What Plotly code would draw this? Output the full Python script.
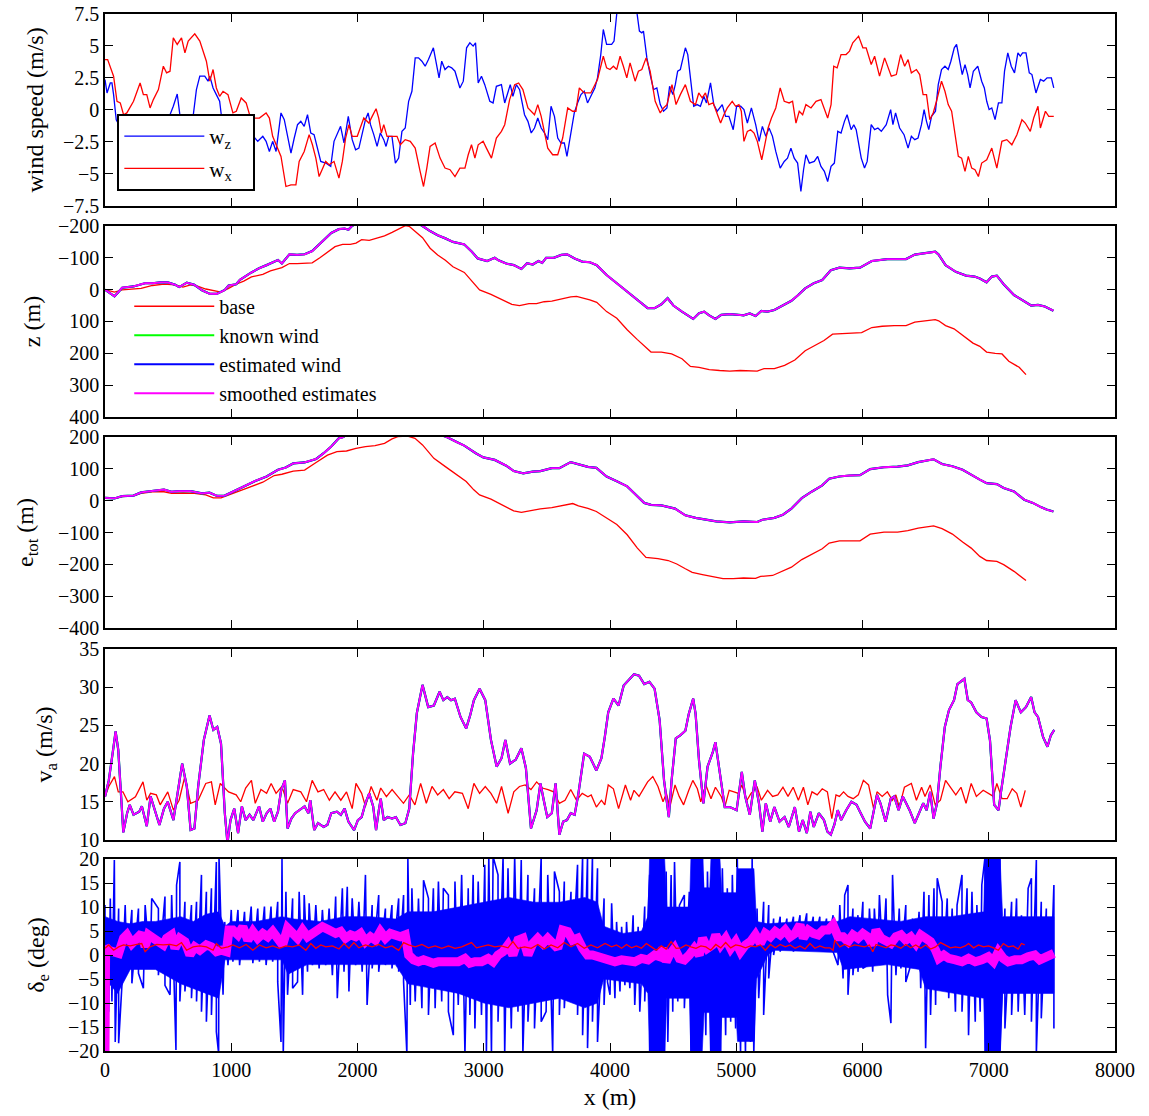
import plotly.graph_objects as go

# ---------------- data ----------------
X_TICKS = [0, 1000, 2000, 3000, 4000, 5000, 6000, 7000, 8000]

# panel 1: wind speed (m/s)
WZ = [(0,2.38),(16,1.33),(42,2.11),(55,2.11),(68,1.2),(89,-0.76),(130,-1.5),(200,-1.0),(280,-2.0),(350,-1.2),(430,-0.8),(500,-0.6),
      (515,-0.37),(541,0.29),(572,1.25),(593,-0.37),(640,-1.5),(698,-0.5),(724,1.59),(751,2.64),(790,2.64),(816,2.25),(830,2.64),(856,1.72),
      (882,1.2),(908,0.68),(921,-0.37),(960,-2.0),(1000,-2.5),(1050,-1.5),(1100,-2.0),(1150,-2.8),(1176,-2.06),(1210,-2.45),(1250,-2.06),
      (1276,-2.45),(1302,-3.24),(1328,-2.45),(1355,-3.24),(1394,-0.23),(1420,-0.76),(1447,-2.19),(1473,-3.37),(1499,-2.19),(1525,-1.15),
      (1551,-0.89),(1578,-1.28),(1604,-0.37),(1630,-1.8),(1656,-1.93),(1683,-2.98),(1709,-4.02),(1748,-4.15),(1788,-4.41),(1814,-2.45),
      (1840,-1.93),(1866,-1.28),(1893,-2.58),(1927,-0.5),(1958,-2.32),(1985,-3.11),(2011,-2.98),(2037,-1.93),(2063,-0.76),(2084,-0.23),
      (2103,-1.15),(2129,-1.93),(2155,-2.85),(2181,-1.8),(2208,-2.32),(2226,-2.85),(2247,-2.06),(2273,-2.06),(2300,-4.15),(2326,-3.76),
      (2352,-1.67),(2378,-1.41),(2405,0.68),(2431,1.46),(2457,4.07),(2483,4.07),(2510,3.81),(2536,3.42),(2562,3.94),(2601,4.86),(2628,3.55),
      (2646,2.51),(2667,3.81),(2693,3.16),(2720,3.42),(2746,3.29),(2772,3.03),(2811,1.72),(2838,2.25),(2864,4.86),(2890,5.25),(2916,4.99),
      (2935,5.25),(2956,2.11),(2982,2.64),(3008,1.98),(3048,0.68),(3074,0.55),(3100,1.85),(3140,1.98),(3166,0.55),(3192,1.33),(3210,1.98),
      (3231,1.07),(3258,1.98),(3284,1.59),(3323,-0.37),(3350,-0.89),(3376,-1.8),(3402,-1.41),(3428,-0.63),(3455,-1.41),(3481,-1.8),
      (3507,-2.32),(3533,0.29),(3560,-0.5),(3586,-2.19),(3612,-2.58),(3638,-2.58),(3659,-3.63),(3691,-1.93),(3717,-0.23),(3743,0.55),
      (3770,1.2),(3796,1.46),(3822,0.55),(3848,1.07),(3880,1.72),(3901,2.51),(3927,4.33),(3947,6.29),(3973,5.12),(4013,5.12),(4032,5.38),
      (4053,7.47),(4080,8.2),(4106,8.1),(4133,7.9),(4159,7.7),(4186,8.0),(4212,7.7),(4233,6.16),(4252,6.03),(4265,6.16),(4292,4.07),
      (4318,2.77),(4345,1.59),(4371,1.72),(4398,0.42),(4424,-0.1),(4451,0.16),(4472,1.85),(4498,1.2),(4517,1.98),(4536,3.03),(4557,3.16),
      (4578,4.2),(4597,4.86),(4616,4.33),(4637,2.64),(4663,0.29),(4690,0.42),(4716,0.29),(4743,1.07),(4764,0.55),(4796,2.11),(4822,0.42),
      (4849,-0.1),(4889,0.42),(4915,-0.5),(4942,-0.5),(4976,-1.54),(5003,0.29),(5035,0.29),(5061,0.03),(5088,-1.02),(5120,0.16),(5154,-1.15),
      (5181,-2.45),(5207,-1.28),(5234,-2.06),(5260,-1.41),(5287,-2.06),(5313,-3.24),(5348,-4.54),(5380,-4.02),(5406,-3.76),(5433,-2.98),
      (5459,-3.76),(5486,-4.15),(5512,-6.37),(5533,-4.67),(5552,-3.5),(5579,-4.15),(5618,-4.02),(5645,-3.63),(5671,-4.41),(5698,-4.8),
      (5724,-5.59),(5751,-4.41),(5777,-4.15),(5804,-1.67),(5830,-1.8),(5857,-0.89),(5878,-0.37),(5910,-1.54),(5931,-1.15),(5950,-1.54),
      (5990,-3.76),(6016,-4.54),(6037,-4.02),(6069,-1.15),(6096,-1.54),(6122,-1.41),(6149,-1.67),(6188,-1.15),(6223,0.03),(6241,-1.15),
      (6262,-0.23),(6294,-1.41),(6329,-1.93),(6361,-2.98),(6387,-2.06),(6414,-2.32),(6440,-2.19),(6467,-1.15),(6488,0.03),(6507,-0.89),
      (6525,-1.54),(6547,-0.5),(6578,-0.1),(6600,1.98),(6626,3.16),(6653,3.42),(6679,3.16),(6700,3.81),(6727,4.86),(6745,5.12),(6772,3.81),
      (6790,2.77),(6812,3.55),(6833,2.77),(6852,1.72),(6878,3.03),(6913,3.42),(6944,2.25),(6965,1.72),(6984,0.68),(7003,0.03),(7024,0.16),
      (7050,-0.76),(7077,0.55),(7104,0.55),(7125,3.03),(7151,4.46),(7178,3.42),(7204,2.9),(7231,4.46),(7250,4.2),(7268,4.46),(7295,4.46),
      (7321,2.9),(7342,2.77),(7374,1.33),(7409,2.38),(7435,2.25),(7462,2.51),(7496,2.51),(7515,1.72)]

WX = [(0,3.94),(21,3.94),(68,2.64),(95,0.68),(121,0.55),(147,-0.37),(173,-0.23),(226,0.68),(278,2.11),(304,1.2),(331,1.2),(357,0.16),
      (383,0.81),(423,1.59),(462,3.42),(488,2.9),(515,3.03),(541,5.64),(572,5.12),(606,5.64),(633,4.46),(659,5.38),(711,5.95),(751,5.38),
      (803,3.81),(830,2.25),(856,3.16),(882,1.72),(908,1.07),(935,1.46),(974,1.2),(1013,-0.23),(1040,-0.1),(1079,0.94),(1118,0.55),
      (1145,-0.37),(1184,-0.63),(1223,-0.63),(1276,-0.23),(1302,-0.63),(1328,-2.06),(1355,-2.72),(1394,-3.63),(1433,-5.98),(1473,-5.85),
      (1512,-5.85),(1538,-4.02),(1578,-3.24),(1617,-1.93),(1643,-2.72),(1670,-3.76),(1696,-5.2),(1722,-4.54),(1748,-4.02),(1775,-4.28),
      (1814,-4.02),(1853,-5.33),(1880,-4.02),(1906,-2.19),(1932,-1.15),(1958,-2.06),(1998,-2.06),(2050,-0.63),(2090,-1.02),(2116,-0.5),
      (2147,0.1),(2168,-0.63),(2189,-1.8),(2208,-1.15),(2234,-2.06),(2273,-2.06),(2313,-2.06),(2339,-2.72),(2378,-2.32),(2418,-2.45),
      (2457,-2.98),(2496,-4.8),(2523,-5.98),(2549,-4.54),(2575,-2.85),(2615,-2.58),(2654,-3.76),(2693,-4.54),(2733,-4.67),(2772,-5.2),
      (2811,-4.54),(2851,-4.54),(2877,-3.5),(2903,-2.72),(2930,-3.76),(2956,-2.72),(2995,-2.45),(3021,-2.98),(3061,-3.76),(3100,-2.19),
      (3140,-1.67),(3166,-1.15),(3205,0.81),(3245,1.98),(3276,2.11),(3310,1.59),(3350,0.16),(3402,-0.37),(3428,0.42),(3455,-0.5),
      (3481,-1.67),(3507,-2.98),(3546,-3.5),(3586,-3.5),(3625,-2.19),(3665,0.16),(3704,-0.1),(3730,-0.1),(3757,1.72),(3796,1.33),
      (3848,1.33),(3901,2.38),(3947,4.2),(3973,3.29),(4000,3.16),(4027,3.42),(4053,3.16),(4080,4.2),(4106,3.42),(4133,2.51),(4159,3.68),
      (4199,2.25),(4225,3.03),(4252,3.16),(4286,4.07),(4318,3.03),(4358,0.68),(4398,-0.23),(4424,0.16),(4451,0.42),(4491,1.98),(4523,0.42),
      (4557,1.2),(4597,1.98),(4637,0.68),(4677,0.42),(4703,1.33),(4730,0.94),(4756,1.33),(4783,0.42),(4817,0.55),(4849,-0.37),(4876,-1.02),
      (4902,-0.37),(4929,0.16),(4968,0.68),(4995,0.29),(5021,0.42),(5040,-0.1),(5061,-2.45),(5088,-1.67),(5114,-1.54),(5141,-1.8),
      (5167,-2.45),(5202,-3.89),(5226,-2.72),(5252,-1.41),(5279,-0.63),(5313,0.16),(5348,1.72),(5380,0.68),(5419,0.55),(5446,0.68),
      (5473,-1.02),(5499,-0.1),(5526,-0.37),(5552,0.42),(5592,0.16),(5632,0.68),(5671,0.81),(5724,-0.63),(5751,0.42),(5772,3.42),
      (5799,3.29),(5830,4.33),(5870,4.33),(5897,4.6),(5923,5.25),(5969,5.77),(6003,4.86),(6029,4.86),(6069,3.55),(6096,4.2),(6135,2.64),
      (6175,4.07),(6228,2.64),(6268,2.77),(6302,4.33),(6334,3.42),(6361,3.94),(6387,2.9),(6427,3.16),(6453,2.77),(6480,1.2),(6507,1.2),
      (6533,-0.76),(6560,-0.23),(6586,0.68),(6626,2.25),(6653,1.46),(6679,0.42),(6706,-0.1),(6732,-1.67),(6759,-3.63),(6785,-3.76),
      (6812,-4.8),(6838,-3.63),(6865,-4.54),(6891,-4.67),(6918,-5.2),(6944,-4.15),(6984,-3.89),(7024,-2.98),(7064,-4.54),(7104,-2.45),
      (7143,-2.32),(7183,-2.72),(7223,-1.93),(7263,-0.76),(7289,-1.02),(7329,-1.67),(7356,-0.63),(7390,0.29),(7409,-1.41),(7449,-0.1),
      (7475,-0.5),(7515,-0.5)]

# panel 2: z (m)
Z_BASE = [(0,0),(45,6),(75,8),(136,1),(226,-2),(286,-4),(376,-13),(467,-17),(557,-15),(617,-8),(678,-15),(738,-10),(798,-2),(858,2),
          (919,8),(979,-4),(1039,-17),(1099,-27),(1160,-40),(1250,-48),(1310,-59),(1401,-69),(1461,-82),(1521,-82),(1581,-84),(1641,-84),
          (1702,-100),(1762,-117),(1822,-135),(1882,-142),(1943,-142),(1988,-146),(2033,-157),(2093,-155),(2154,-161),(2214,-169),(2274,-180),
          (2334,-192),(2379,-201),(2409,-199),(2455,-184),(2515,-163),(2575,-130),(2635,-109),(2696,-92),(2756,-72),(2846,-54),(2906,-25),
          (2967,1),(3057,15),(3147,31),(3222,46),(3283,50),(3358,44),(3418,44),(3478,38),(3539,36),(3629,27),(3689,23),(3735,21),(3780,25),
          (3840,32),(3895,40),(3973,69),(4054,90),(4136,126),(4217,157),(4271,178),(4325,196),(4407,196),(4488,202),(4570,217),(4637,241),
          (4705,244),(4786,251),(4868,254),(4949,256),(5031,254),(5112,254),(5166,256),(5220,248),(5302,248),(5383,238),(5464,221),(5546,192),
          (5627,175),(5695,160),(5763,140),(5844,138),(5925,138),(5993,135),(6074,119),(6156,115),(6251,113),(6345,113),(6414,102),(6495,98),
          (6576,94),(6603,98),(6658,113),(6725,123),(6793,144),(6875,168),(6929,178),(6983,196),(7051,200),(7105,202),(7159,225),(7241,244),
          (7295,267)]
Z_EST = [(0,0),(45,13),(75,21),(105,8),(136,-6),(226,-10),(316,-20),(376,-20),(437,-23),(497,-23),(557,-15),(587,-8),(648,-22),(708,-15),
         (768,2),(828,13),(888,13),(949,1),(979,-13),(1039,-17),(1069,-31),(1160,-54),(1220,-67),(1280,-77),(1370,-93),(1401,-82),(1461,-111),
         (1521,-109),(1581,-111),(1641,-121),(1702,-144),(1792,-178),(1852,-190),(1898,-192),(1928,-188),(1958,-201),(2050,-215),(2150,-225),
         (2250,-235),(2350,-235),(2450,-215),(2515,-200),(2575,-184),(2635,-171),(2696,-161),(2756,-150),(2846,-142),(2906,-119),(2952,-98),
         (3027,-90),(3087,-100),(3117,-92),(3178,-82),(3238,-77),(3298,-65),(3343,-83),(3388,-79),(3433,-90),(3463,-84),(3494,-100),(3554,-100),
         (3614,-109),(3660,-111),(3720,-98),(3780,-88),(3840,-86),(3895,-77),(3973,-46),(4054,-20),(4136,6),(4217,32),(4298,58),(4353,58),
         (4407,46),(4456,27),(4502,50),(4570,69),(4624,84),(4659,92),(4705,74),(4746,69),(4786,81),(4835,92),(4881,79),(4949,77),(5017,79),
         (5058,81),(5107,75),(5153,83),(5199,67),(5248,69),(5302,64),(5370,50),(5437,35),(5491,17),(5546,-4),(5614,-20),(5681,-30),(5749,-61),
         (5817,-69),(5898,-67),(5980,-69),(6074,-90),(6142,-93),(6197,-96),(6278,-96),(6345,-96),(6414,-110),(6495,-114),(6549,-117),(6576,-119),
         (6603,-110),(6658,-77),(6739,-56),(6820,-44),(6888,-41),(6929,-35),(6983,-23),(7024,-41),(7064,-44),(7118,-17),(7200,17),(7281,38),
         (7336,50),(7390,48),(7444,53),(7512,66)]

# panel 3: e_tot (m)
E_BASE = [(0,9),(75,7),(136,13),(226,16),(286,23),(376,28),(467,28),(527,23),(617,24),(708,23),(798,18),(858,9),(919,9),(979,18),(1069,31),
          (1160,46),(1250,58),(1340,79),(1401,83),(1491,93),(1581,96),(1672,120),(1762,143),(1837,154),(1913,156),(1988,164),(2063,170),
          (2139,173),(2214,180),(2274,194),(2319,201),(2394,203),(2455,196),(2515,175),(2605,133),(2696,107),(2786,81),(2861,60),(2921,34),
          (2967,18),(3057,5),(3147,-14),(3237,-32),(3298,-37),(3388,-30),(3448,-26),(3539,-22),(3629,-14),(3705,-9),(3750,-16),(3825,-24),
          (3892,-34),(3973,-54),(4054,-75),(4136,-107),(4217,-149),(4285,-178),(4380,-182),(4461,-188),(4529,-199),(4597,-214),(4651,-225),
          (4732,-232),(4813,-239),(4895,-245),(4976,-245),(5058,-243),(5153,-244),(5193,-238),(5288,-235),(5356,-224),(5437,-209),(5519,-185),
          (5600,-168),(5681,-151),(5736,-133),(5817,-126),(5898,-126),(5980,-126),(6061,-105),(6170,-99),(6278,-99),(6359,-94),(6441,-86),
          (6522,-81),(6563,-79),(6630,-88),(6712,-105),(6793,-130),(6861,-149),(6929,-175),(6983,-188),(7064,-191),(7118,-201),(7200,-222),
          (7254,-238),(7295,-251)]
E_EST = [(0,9),(75,7),(136,14),(226,16),(286,26),(376,31),(467,35),(527,28),(587,30),(678,30),(768,23),(828,25),(888,15),(949,16),(1009,28),
         (1099,45),(1190,62),(1280,76),(1370,97),(1431,104),(1491,117),(1581,120),(1672,131),(1732,149),(1792,170),(1852,196),(1882,199),
         (1950,215),(2100,240),(2300,255),(2500,245),(2640,210),(2711,199),(2786,184),(2846,173),(2937,149),(2997,136),(3087,128),(3178,110),
         (3238,93),(3313,86),(3388,91),(3448,93),(3539,102),(3599,102),(3689,121),(3750,114),(3825,106),(3892,103),(3973,76),(4054,61),
         (4136,45),(4190,24),(4271,-7),(4325,-13),(4407,-15),(4515,-25),(4597,-46),(4678,-54),(4759,-60),(4841,-65),(4949,-68),(5058,-65),
         (5166,-67),(5207,-60),(5302,-54),(5370,-44),(5437,-25),(5519,8),(5600,29),(5681,48),(5736,69),(5817,76),(5898,79),(5980,80),
         (6061,99),(6170,105),(6278,107),(6359,111),(6441,121),(6522,127),(6563,130),(6630,115),(6712,108),(6793,97),(6848,84),(6929,66),
         (6983,55),(7064,52),(7118,40),(7200,29),(7281,3),(7349,-7),(7417,-21),(7458,-28),(7512,-34)]

# panel 4: v_a (m/s)
VA_BASE = [(0,15.66),(30,17.0),(75,18.3),(105,16.3),(142,16.3),(181,15.0),(241,15.66),(301,17.6),(331,15.2),(361,16.1),(407,15.9),
           (437,14.6),(497,16.3),(542,13.9),(587,15.2),(632,18.3),(678,14.8),(738,15.2),(798,17.4),(843,17.6),(873,14.6),(913,17.4),
           (979,16.3),(1039,15.9),(1075,15.0),(1114,16.8),(1160,17.8),(1190,14.8),(1235,16.6),(1280,16.1),(1316,17.4),(1355,16.1),
           (1401,17.0),(1446,14.8),(1491,16.6),(1551,16.3),(1596,15.0),(1641,17.8),(1687,16.3),(1732,16.6),(1777,15.2),(1822,16.3),
           (1868,15.2),(1913,16.3),(1958,14.1),(1988,17.4),(2033,16.1),(2063,14.4),(2108,17.0),(2154,15.2),(2184,16.8),(2229,15.66),
           (2274,16.6),(2319,15.66),(2364,14.8),(2410,15.9),(2455,14.6),(2500,17.4),(2545,14.8),(2590,17.0),(2635,15.9),(2680,16.6),
           (2726,15.4),(2771,16.3),(2831,16.1),(2877,14.1),(2922,17.4),(2967,16.1),(3012,17.0),(3057,16.1),(3102,14.8),(3141,17.0),
           (3193,13.5),(3238,16.3),(3283,17.0),(3328,17.2),(3374,16.6),(3419,17.6),(3464,16.8),(3509,16.6),(3554,16.3),(3599,14.8),
           (3644,15.2),(3689,16.6),(3735,15.2),(3780,16.1),(3825,15.66),(3851,15.9),(3892,14.3),(3932,15.2),(3959,14.6),(3986,17.2),
           (4027,16.7),(4068,14.1),(4122,17.2),(4163,15.2),(4190,16.5),(4230,15.7),(4257,16.5),(4298,17.6),(4339,18.3),(4380,17.0),
           (4420,15.0),(4447,16.1),(4474,14.3),(4515,17.2),(4548,15.7),(4583,14.6),(4624,16.5),(4656,17.8),(4692,16.7),(4719,15.0),
           (4759,17.2),(4800,15.4),(4835,16.9),(4881,15.7),(4909,14.3),(4944,16.5),(4982,16.3),(5017,16.1),(5044,17.2),(5085,15.2),
           (5117,16.1),(5166,16.9),(5199,15.2),(5248,16.5),(5288,15.7),(5329,15.9),(5370,16.9),(5410,15.7),(5451,16.9),(5492,15.2),
           (5532,16.9),(5567,14.6),(5600,16.3),(5641,15.9),(5681,16.7),(5722,16.3),(5757,12.8),(5790,15.9),(5817,15.7),(5850,16.3),
           (5885,15.7),(5926,15.4),(5967,15.9),(6007,17.8),(6048,17.2),(6088,14.1),(6115,16.3),(6156,15.7),(6197,16.3),(6237,15.2),
           (6264,15.9),(6292,14.3),(6332,16.9),(6387,17.4),(6427,15.2),(6468,16.9),(6495,15.7),(6536,17.2),(6576,14.6),(6617,15.2),
           (6658,17.8),(6698,16.9),(6739,15.9),(6780,16.9),(6820,14.8),(6861,17.4),(6902,15.7),(6956,16.5),(6997,16.1),(7037,15.7),
           (7064,17.4),(7105,15.4),(7146,15.4),(7186,16.7),(7222,16.1),(7254,14.3),(7289,16.5)]
VA_EST = [(0,15.66),(30,17.8),(60,21.3),(84,24.2),(105,21.8),(130,15.2),(145,11.0),(175,13.5),(196,14.6),(226,13.3),(271,13.7),(292,14.4),
          (331,11.8),(361,15.7),(392,14.1),(431,11.96),(467,14.1),(497,15.0),(542,12.6),(572,15.66),(611,20.0),(648,17.0),(678,11.3),
          (708,11.5),(738,17.0),(783,23.1),(828,26.3),(858,24.4),(889,24.8),(919,22.6),(949,13.5),(970,9.6),(994,12.6),(1024,14.1),
          (1054,10.9),(1084,14.4),(1114,12.6),(1145,13.3),(1175,12.6),(1220,14.4),(1250,12.4),(1280,13.5),(1310,14.1),(1340,12.4),
          (1370,13.7),(1395,16.5),(1425,17.8),(1446,11.5),(1476,12.8),(1506,13.5),(1551,14.1),(1581,14.4),(1611,13.5),(1626,15.2),
          (1657,11.3),(1687,12.2),(1732,11.7),(1762,12.0),(1792,13.5),(1837,13.7),(1868,13.3),(1898,14.1),(1928,12.4),(1973,11.3),
          (2003,12.6),(2033,13.0),(2063,14.8),(2093,16.1),(2124,14.4),(2147,11.3),(2169,13.9),(2184,15.4),(2208,12.6),(2238,13.0),
          (2274,12.8),(2304,13.0),(2340,11.96),(2379,12.2),(2410,14.1),(2440,21.3),(2470,26.6),(2515,30.3),(2560,27.4),(2605,27.6),
          (2650,29.4),(2680,28.3),(2711,28.7),(2741,28.3),(2771,28.5),(2816,26.1),(2861,24.6),(2892,26.3),(2922,28.3),(2967,29.8),
          (3012,28.3),(3057,23.1),(3102,19.6),(3141,20.7),(3171,23.1),(3208,20.0),(3253,20.5),(3298,22.0),(3334,19.4),(3374,11.5),
          (3419,13.9),(3449,17.4),(3473,15.4),(3503,13.0),(3539,13.5),(3569,17.4),(3599,10.7),(3629,12.4),(3659,12.6),(3689,13.5),
          (3720,13.3),(3750,16.1),(3795,21.3),(3840,20.9),(3892,19.1),(3932,20.7),(3959,23.5),(3986,26.7),(4027,28.5),(4068,27.6),
          (4108,30.2),(4149,30.9),(4190,31.7),(4230,31.5),(4271,30.4),(4312,30.7),(4353,29.8),(4393,25.7),(4428,17.8),(4466,13.0),
          (4488,17.8),(4521,23.3),(4556,23.7),(4597,24.3),(4624,26.5),(4659,28.5),(4678,26.5),(4705,20.4),(4740,14.8),(4773,19.6),
          (4814,21.5),(4835,22.8),(4868,18.7),(4909,14.3),(4949,14.3),(5003,13.9),(5044,18.9),(5071,15.7),(5107,13.3),(5147,17.8),
          (5180,14.8),(5207,11.1),(5234,14.8),(5269,12.4),(5302,14.3),(5343,12.4),(5383,13.0),(5416,11.7),(5464,14.3),(5497,11.1),
          (5527,12.6),(5559,10.9),(5587,13.7),(5614,11.7),(5654,13.5),(5695,12.6),(5722,11.1),(5749,10.7),(5777,12.0),(5804,13.9),
          (5831,12.6),(5871,13.9),(5912,15.0),(5953,14.6),(5980,13.7),(6020,12.4),(6061,11.5),(6088,13.5),(6115,15.9),(6142,14.8),
          (6183,12.4),(6224,15.4),(6251,15.7),(6286,13.9),(6319,15.7),(6346,14.8),(6373,13.9),(6414,12.2),(6454,13.9),(6481,14.8),
          (6508,13.9),(6536,16.3),(6563,12.8),(6590,14.8),(6617,19.6),(6652,24.8),(6685,27.0),(6725,28.3),(6752,30.4),(6780,30.7),
          (6807,31.1),(6834,28.3),(6861,28.0),(6902,26.7),(6943,26.1),(6983,25.9),(7010,23.0),(7043,14.6),(7078,13.9),(7097,16.3),
          (7132,20.4),(7173,24.8),(7213,28.3),(7254,26.7),(7295,27.4),(7336,28.7),(7363,26.7),(7390,26.1),(7430,23.5),(7465,22.2),
          (7492,23.7),(7519,24.4)]

# panel 5: delta_e (deg). The estimated-wind run is very noisy: its spike tips (hi / lo) and its dense core band
DE_HI = [(0,10.4),(42,11.8),(74,19.8),(108,9.7),(160,10.4),(213,9.4),(265,9.7),(318,10.4),(370,11.8),(423,9.7),(475,12.2),(528,12.5),
         (567,14.6),(593,19.4),(633,11.1),(685,10.4),(725,11.1),(764,16.7),(803,13.2),(843,13.9),(882,19.4),(903,20.5),(948,6.9),(1000,9.4),
         (1053,9.4),(1105,9.0),(1158,10.1),(1210,9.7),(1263,10.1),(1315,10.1),(1368,11.1),(1402,20.1),(1433,13.2),(1486,11.8),(1538,13.2),
         (1578,12.5),(1617,10.8),(1670,10.4),(1722,9.4),(1775,9.7),(1827,12.2),(1880,13.9),(1919,14.2),(1958,11.8),(2011,11.1),(2063,16.7),
         (2116,10.4),(2168,12.5),(2221,9.7),(2273,10.4),(2326,11.8),(2365,12.5),(2399,20.1),(2431,13.9),(2483,11.8),(2523,15.6),(2562,11.8),
         (2601,13.9),(2641,15.3),(2680,13.9),(2720,12.5),(2772,15.3),(2825,16.7),(2877,13.9),(2916,16.7),(2956,15.3),(3008,18.8),(3040,20.5),
         (3074,20.5),(3113,16.7),(3153,20.5),(3192,18.1),(3245,20.5),(3297,19.8),(3350,16.7),(3402,13.9),(3455,20.5),(3507,16.7),(3560,17.4),
         (3599,13.2),(3638,15.3),(3691,13.2),(3743,18.8),(3783,20.5),(3822,20.5),(3861,20.5),(3901,18.1),(3953,11.8),(3975,4.5),(4013,10.8),
         (4052,6.9),(4092,5.9),(4131,6.9),(4183,8.3),(4223,5.9),(4275,10.1),(4314,16.7),(4340,19.8),(4367,20.5),(4406,20.5),(4445,17.4),
         (4484,16.7),(4511,19.4),(4550,10.4),(4589,12.5),(4628,13.2),(4655,20.5),(4694,20.5),(4733,20.5),(4772,17.4),(4812,20.5),(4851,20.5),
         (4890,18.1),(4929,13.9),(4969,16.7),(5008,20.5),(5047,16.7),(5086,13.9),(5126,20.5),(5165,9.7),(5217,11.1),(5257,10.4),(5296,7.6),
         (5348,8.0),(5401,7.6),(5453,8.0),(5505,8.3),(5558,8.7),(5610,8.0),(5662,8.0),(5715,7.6),(5767,8.3),(5820,10.4),(5859,12.5),
         (5885,14.6),(5924,9.7),(5964,8.3),(6003,11.1),(6055,9.7),(6094,9.7),(6134,12.5),(6186,11.8),(6238,16.7),(6291,9.7),(6343,10.4),
         (6396,7.6),(6448,9.0),(6487,13.2),(6526,12.5),(6566,13.9),(6592,16.0),(6631,11.1),(6671,11.8),(6710,9.7),(6749,10.4),(6788,16.7),
         (6828,13.9),(6867,13.2),(6906,10.4),(6945,14.6),(6971,20.5),(7011,20.5),(7050,20.5),(7089,20.5),(7128,9.7),(7181,11.1),(7220,11.8),
         (7259,8.3),(7312,13.9),(7338,16.0),(7377,19.8),(7416,11.1),(7456,9.7),(7490,6.9),(7516,14.6)]
DE_LO = [(0,-6.9),(29,-11.8),(55,-9.7),(81,-18.1),(108,-18.4),(134,-6.3),(173,-2.8),(213,-5.9),(265,-3.8),(304,-6.9),(357,-2.8),(423,-4.2),
         (475,-6.3),(515,-8.3),(562,-19.8),(593,-9.7),(633,-7.6),(685,-9.0),(725,-9.7),(764,-11.8),(803,-13.9),(843,-12.5),(882,-16.0),
         (900,-20.5),(935,-8.3),(974,-2.1),(1013,-1.4),(1066,-2.1),(1118,-0.7),(1171,-1.7),(1223,-1.4),(1276,-2.1),(1328,-1.4),(1368,-5.6),
         (1394,-18.1),(1412,-20.5),(1446,-8.3),(1486,-6.9),(1525,-5.6),(1565,-8.3),(1604,-3.5),(1643,-2.1),(1696,-2.8),(1748,-2.1),(1801,-4.2),
         (1840,-9.0),(1893,-3.5),(1932,-7.6),(1985,-2.1),(2037,-3.5),(2076,-10.4),(2116,-2.8),(2168,-3.5),(2221,-2.1),(2273,-2.8),(2326,-3.5),
         (2365,-5.6),(2391,-20.5),(2418,-10.4),(2457,-9.7),(2510,-11.1),(2562,-12.5),(2615,-11.1),(2667,-9.7),(2720,-11.8),(2759,-16.7),
         (2798,-10.4),(2851,-20.5),(2890,-12.5),(2930,-15.3),(2982,-12.5),(3021,-20.5),(3061,-20.5),(3113,-13.9),(3166,-20.5),(3218,-15.3),
         (3271,-11.8),(3310,-20.5),(3350,-13.9),(3402,-15.3),(3455,-13.9),(3494,-11.8),(3546,-20.5),(3599,-12.5),(3638,-11.1),(3691,-8.3),
         (3743,-12.5),(3783,-16.7),(3822,-19.4),(3861,-13.9),(3901,-18.1),(3953,-10.4),(3980,-5.6),(4000,-8.3),(4039,-9.0),(4079,-7.6),
         (4118,-6.3),(4157,-6.9),(4196,-10.4),(4236,-11.8),(4275,-9.7),(4314,-20.5),(4353,-20.5),(4393,-20.5),(4432,-20.5),(4458,-18.1),
         (4497,-11.8),(4537,-9.7),(4589,-11.1),(4641,-20.5),(4681,-20.5),(4720,-20.5),(4759,-16.7),(4798,-20.5),(4838,-20.5),(4877,-20.5),
         (4916,-16.7),(4956,-13.9),(4995,-15.3),(5034,-20.5),(5073,-20.5),(5113,-18.1),(5139,-20.5),(5178,-9.0),(5217,-12.5),(5257,-4.9),
         (5296,0.0),(5348,0.7),(5401,1.4),(5453,0.7),(5505,1.4),(5558,1.0),(5610,1.4),(5662,1.0),(5715,0.7),(5767,0.7),(5806,-2.1),
         (5846,-4.9),(5885,-8.3),(5924,-4.2),(5964,-3.5),(6003,-2.8),(6042,-2.1),(6081,-3.5),(6120,-2.1),(6160,-0.7),(6199,-8.3),(6225,-14.2),
         (6265,-4.2),(6304,-2.8),(6343,-5.6),(6382,-2.1),(6422,-2.1),(6461,-6.9),(6500,-19.4),(6539,-12.5),(6579,-10.4),(6631,-6.9),
         (6683,-9.0),(6736,-11.8),(6788,-11.8),(6840,-16.7),(6893,-13.9),(6932,-11.8),(6971,-20.5),(7011,-20.5),(7050,-20.5),(7089,-20.5),
         (7128,-15.3),(7181,-12.5),(7233,-11.8),(7285,-12.5),(7338,-13.9),(7377,-20.5),(7416,-13.2),(7456,-6.9),(7490,-5.6),(7516,-15.3)]
DE_CORE_HI = [(0,8),(100,7),(200,6.5),(300,7),(400,7),(500,7.5),(600,8),(700,7),(800,8.5),(900,9),(950,6),(1000,7),(1200,7),(1400,8),
              (1500,7.5),(1700,7),(1900,8),(2100,8),(2300,7.5),(2400,9),(2600,9),(2800,10),(3000,11),(3200,12),(3400,11),(3600,11),
              (3800,12),(3900,11),(3950,6),(4100,4.5),(4250,5),(4300,8),(4314,20.5),(4432,20.5),(4450,10),(4630,10),(4641,20.5),(4730,20.5),
              (4745,14),(4790,14),(4800,20.5),(4870,20.5),(4885,13),(5000,13),(5010,18),(5140,18),(5160,7),(5250,6.5),(5500,7),(5800,7),
              (5900,8),(6100,7.5),(6300,7),(6500,8),(6700,8),(6960,9),(6971,20.5),(7089,20.5),(7110,8),(7300,8),(7516,8)]
DE_CORE_LO = [(0,-5),(100,-8),(200,-3),(400,-3),(600,-6),(800,-8),(900,-9),(950,-1),(1400,-1),(1450,-4),(1600,-2),(2000,-2),(2300,-2),
              (2400,-6),(2600,-7),(2800,-8),(3000,-10),(3200,-11),(3400,-10),(3600,-9),(3800,-11),(3900,-10),(3950,-5),(4250,-6),(4300,-8),
              (4314,-20.5),(4432,-20.5),(4450,-9),(4630,-9),(4641,-20.5),(4730,-20.5),(4745,-12),(4790,-12),(4800,-20.5),(4870,-20.5),
              (4885,-13),(5000,-13),(5010,-18),(5140,-18),(5160,-5),(5250,0),(5300,1),(5800,0.5),(5850,-3),(6200,-2),(6450,-3),(6500,-7),
              (6960,-9),(6971,-20.5),(7089,-20.5),(7110,-8),(7516,-8)]
DE_SMOOTH = [(0,-20),(5,1.7),(29,1.0),(68,0.7),(108,0.35),(147,3.5),(173,4.2),(213,2.4),(252,3.8),(291,4.5),(318,1.7),(344,4.2),(383,3.5),
             (423,2.8),(462,2.1),(488,3.5),(528,4.2),(554,1.4),(593,3.5),(633,2.8),(672,0.0),(711,1.7),(751,1.0),(803,2.1),(843,1.7),
             (882,0.7),(921,1.0),(961,0.7),(982,5.2),(1013,5.2),(1053,4.2),(1092,5.9),(1131,3.1),(1171,4.9),(1210,3.5),(1250,4.5),(1289,3.8),
             (1328,4.9),(1368,3.1),(1407,2.1),(1446,5.6),(1486,4.5),(1525,3.5),(1565,5.2),(1604,3.8),(1643,4.5),(1683,5.2),(1722,5.9),
             (1775,5.2),(1827,4.5),(1866,4.9),(1906,3.5),(1945,4.2),(1985,3.8),(2024,4.5),(2063,2.8),(2103,3.8),(2142,3.1),(2181,4.9),
             (2221,3.5),(2260,4.5),(2300,4.2),(2339,3.8),(2378,4.2),(2405,0.0),(2444,-1.0),(2483,-1.4),(2523,-1.0),(2562,-1.4),(2601,-1.7),
             (2641,-1.4),(2693,-1.4),(2746,-1.0),(2798,-1.4),(2851,-0.7),(2890,-1.7),(2930,-1.4),(2982,-1.4),(3035,-0.7),(3074,-1.4),
             (3113,0.0),(3153,0.7),(3192,2.1),(3231,0.0),(3271,3.1),(3310,3.5),(3350,0.0),(3389,2.4),(3428,3.5),(3468,2.4),(3507,3.5),
             (3546,2.4),(3586,1.4),(3625,5.2),(3665,4.9),(3704,3.1),(3743,3.5),(3783,1.4),(3822,0.0),(3861,0.0),(3901,-0.35),(3940,-1.0),
             (3987,-1.0),(4039,-1.4),(4092,-1.0),(4144,-1.4),(4196,-1.4),(4249,-0.7),(4301,-1.0),(4353,0.0),(4393,-0.35),(4419,1.4),
             (4445,-1.4),(4471,0.0),(4511,1.4),(4550,-0.7),(4589,-1.0),(4628,0.0),(4668,1.4),(4707,0.0),(4733,3.5),(4772,1.4),(4812,2.1),
             (4838,4.2),(4877,2.1),(4916,3.5),(4956,1.4),(4995,2.8),(5034,0.7),(5073,2.1),(5113,2.8),(5152,4.2),(5191,2.4),(5230,4.5),
             (5270,3.8),(5309,4.9),(5348,4.2),(5387,5.2),(5427,3.8),(5466,4.5),(5505,6.3),(5531,3.5),(5571,5.2),(5610,4.5),(5649,4.2),
             (5689,5.2),(5728,5.2),(5767,6.3),(5806,3.8),(5846,3.8),(5885,2.8),(5924,4.2),(5964,3.5),(6003,4.5),(6042,3.8),(6081,2.1),
             (6107,5.2),(6147,3.5),(6186,3.1),(6225,2.4),(6265,3.8),(6304,4.2),(6343,3.1),(6382,3.8),(6422,2.4),(6461,4.2),(6500,3.5),
             (6539,2.8),(6579,1.0),(6605,-0.7),(6644,0.0),(6683,-0.7),(6736,-1.0),(6788,-1.4),(6840,-0.7),(6893,-1.4),(6945,-1.0),
             (6997,-0.35),(7037,-1.4),(7076,0.7),(7115,-0.7),(7154,-1.4),(7207,-1.0),(7259,-1.0),(7312,-0.35),(7364,0.0),(7404,-1.0),
             (7443,-0.7),(7482,-0.35),(7516,0.35)]
DE_BASE = [(0,1.4),(29,2.1),(68,1.0),(108,1.7),(147,2.1),(200,1.9),(252,2.2),(291,2.4),(318,0.7),(357,1.7),(410,2.2),(462,2.1),(515,2.2),
           (567,1.9),(606,2.6),(646,1.0),(698,1.7),(751,1.9),(803,1.7),(856,1.0),(882,2.4),(921,1.4),(974,1.7),(1013,2.1),(1066,1.5),
           (1118,2.2),(1171,1.0),(1223,2.1),(1276,1.5),(1328,1.9),(1381,1.4),(1433,1.9),(1486,1.7),(1538,2.1),(1591,1.0),(1630,2.4),
           (1670,1.4),(1709,2.1),(1748,1.7),(1801,1.9),(1853,1.25),(1893,2.4),(1932,1.4),(1971,2.6),(2011,1.5),(2063,2.1),(2116,1.7),
           (2168,2.2),(2221,1.5),(2273,1.9),(2326,1.0),(2365,2.6),(2405,2.1),(2457,1.7),(2510,2.2),(2562,1.5),(2615,1.9),(2667,1.4),
           (2720,1.9),(2772,1.4),(2825,1.7),(2877,2.2),(2903,2.6),(2943,1.5),(2982,1.7),(3035,2.1),(3087,1.7),(3140,1.9),(3192,1.5),
           (3231,2.8),(3271,1.4),(3323,1.7),(3376,1.4),(3428,2.2),(3481,1.25),(3533,2.1),(3586,1.5),(3638,2.6),(3691,1.7),(3743,2.4),
           (3796,1.4),(3848,2.1),(3901,1.5),(3961,2.4),(4013,1.7),(4052,2.1),(4092,1.4),(4131,2.2),(4170,1.5),(4209,1.9),(4249,1.4),
           (4288,2.4),(4327,1.7),(4367,1.0),(4406,1.9),(4445,1.25),(4484,2.8),(4524,1.4),(4563,1.5),(4602,2.1),(4641,1.7),(4681,1.4),
           (4720,1.9),(4759,1.7),(4798,1.0),(4838,2.2),(4877,1.5),(4916,2.6),(4956,1.5),(4995,2.1),(5034,1.9),(5073,1.5),(5113,1.9),
           (5152,1.7),(5191,2.1),(5230,1.0),(5270,2.2),(5309,1.5),(5348,2.2),(5388,1.7),(5427,2.1),(5466,1.4),(5505,1.9),(5545,1.25),
           (5584,2.4),(5623,1.4),(5662,1.9),(5702,1.5),(5741,1.5),(5767,1.0),(5780,3.1),(5820,1.7),(5859,2.2),(5898,1.7),(5937,2.1),
           (5977,1.9),(6016,1.7),(6055,2.1),(6081,0.7),(6107,2.2),(6147,1.9),(6186,1.5),(6225,2.1),(6265,1.9),(6304,1.4),(6343,2.2),
           (6382,1.5),(6422,2.1),(6461,1.4),(6500,2.1),(6539,1.25),(6579,1.7),(6618,2.6),(6657,2.1),(6697,1.5),(6736,1.7),(6775,1.5),
           (6814,1.9),(6840,2.4),(6880,1.5),(6919,2.1),(6958,1.7),(6998,1.9),(7037,1.5),(7076,1.0),(7115,2.4),(7155,1.7),(7194,1.9),
           (7233,1.25),(7259,2.4),(7285,2.1)]

# ---------------- figure ----------------
RED, GREEN, BLUE, MAG = "#ff0000", "#00ff00", "#0000ff", "#ff00ff"
FONT = "Liberation Serif, Times New Roman, serif"


def xs(p):
    return [a for a, _ in p]


def ys(p):
    return [b for _, b in p]


fig = go.Figure()

# panel 1
fig.add_trace(go.Scatter(x=xs(WZ), y=ys(WZ), mode="lines", line=dict(color=BLUE, width=1.3),
                         name="w<sub>z</sub>\u00a0\u00a0\u00a0", legend="legend", legendgroup="a", xaxis="x", yaxis="y"))
fig.add_trace(go.Scatter(x=xs(WX), y=ys(WX), mode="lines", line=dict(color=RED, width=1.3),
                         name="w<sub>x</sub>\u00a0\u00a0\u00a0", legend="legend", legendgroup="b", xaxis="x", yaxis="y"))

# panels 2-4
for i, (base, est) in enumerate([(Z_BASE, Z_EST), (E_BASE, E_EST), (VA_BASE, VA_EST)]):
    ax = str(i + 2)
    first = (i == 0)
    fig.add_trace(go.Scatter(x=xs(base), y=ys(base), mode="lines", line=dict(color=RED, width=1.3),
                             name="base", legend="legend2", showlegend=first, xaxis="x" + ax, yaxis="y" + ax))
    fig.add_trace(go.Scatter(x=xs(est), y=ys(est), mode="lines", line=dict(color=GREEN, width=2.2),
                             name="known wind", legend="legend2", showlegend=first, xaxis="x" + ax, yaxis="y" + ax))
    fig.add_trace(go.Scatter(x=xs(est), y=ys(est), mode="lines", line=dict(color=BLUE, width=2.2),
                             name="estimated wind", legend="legend2", showlegend=first, xaxis="x" + ax, yaxis="y" + ax))
    fig.add_trace(go.Scatter(x=xs(est), y=ys(est), mode="lines", line=dict(color=MAG, width=1.8),
                             name="smoothed estimates", legend="legend2", showlegend=first, xaxis="x" + ax, yaxis="y" + ax))

# panel 5: dense core band + spike tips of the noisy estimate
core_x = xs(DE_CORE_HI) + xs(DE_CORE_LO)[::-1]
core_y = ys(DE_CORE_HI) + ys(DE_CORE_LO)[::-1]
fig.add_trace(go.Scatter(x=core_x, y=core_y, mode="lines", fill="toself", fillcolor=BLUE,
                         line=dict(color=BLUE, width=0.6), showlegend=False, xaxis="x5", yaxis="y5"))
spikes = sorted(DE_HI + DE_LO, key=lambda p: p[0])
fig.add_trace(go.Scatter(x=xs(spikes), y=ys(spikes), mode="lines", line=dict(color=BLUE, width=1.6),
                         showlegend=False, xaxis="x5", yaxis="y5"))
fig.add_trace(go.Scatter(x=xs(DE_SMOOTH), y=ys(DE_SMOOTH), mode="lines", line=dict(color=MAG, width=9),
                         showlegend=False, xaxis="x5", yaxis="y5"))
fig.add_trace(go.Scatter(x=xs(DE_BASE), y=ys(DE_BASE), mode="lines", line=dict(color=RED, width=1.3),
                         showlegend=False, xaxis="x5", yaxis="y5"))

axis_common = dict(showline=True, linecolor="black", linewidth=1.5, mirror="ticks", ticks="inside",
                   ticklen=8, tickwidth=1.3, tickcolor="black", showgrid=False, zeroline=False, automargin=False,
                   ticklabeloverflow="allow", tickfont=dict(family=FONT, size=20, color="black"))
title_font = dict(family=FONT, size=24, color="black")

domains = [(0.8149, 1.0), (0.6114, 0.7956), (0.4079, 0.5921), (0.2035, 0.3877), (0.0, 0.1851)]
yspecs = [
    dict(range=[-7.5, 7.5], tickvals=[-7.5, -5, -2.5, 0, 2.5, 5, 7.5],
         ticktext=["\u22127.5", "\u22125", "\u22122.5", "0", "2.5", "5", "7.5"], title="wind speed (m/s)", standoff=13),
    dict(range=[400, -200], tickvals=[-200, -100, 0, 100, 200, 300, 400], title="z (m)", standoff=11),
    dict(range=[-400, 200], tickvals=[-400, -300, -200, -100, 0, 100, 200], title="e<sub>tot</sub> (m)", standoff=18),
    dict(range=[10, 35], tickvals=[10, 15, 20, 25, 30, 35], title="v<sub>a</sub> (m/s)", standoff=20),
    dict(range=[-20, 20], tickvals=[-20, -15, -10, -5, 0, 5, 10, 15, 20], title="\u03b4<sub>e</sub> (deg)", standoff=17),
]

layout = dict(
    width=1149, height=1116, paper_bgcolor="white", plot_bgcolor="white",
    margin=dict(l=105, r=34, t=14, b=65),
    font=dict(family=FONT, color="black"),
    legend=dict(x=0.0122, y=0.9036, xanchor="left", yanchor="top", bgcolor="white",
                bordercolor="black", borderwidth=2, font=dict(family=FONT, size=21),
                itemwidth=80, tracegroupgap=2, traceorder="grouped"),
    legend2=dict(x=0.024, y=0.737, xanchor="left", yanchor="top", bgcolor="rgba(0,0,0,0)",
                 borderwidth=0, font=dict(family=FONT, size=20), itemwidth=80),
)
for i in range(5):
    k = "" if i == 0 else str(i + 1)
    spec = yspecs[i]
    xa = dict(axis_common, domain=[0, 1], range=[0, 8000], tickvals=X_TICKS,
              showticklabels=(i == 4), anchor="y" + k)
    if i == 4:
        xa["title"] = dict(text="x (m)", font=title_font, standoff=8)
    layout["xaxis" + k] = xa
    ya = dict(axis_common, domain=list(domains[i]), range=spec["range"],
              tickvals=spec["tickvals"], anchor="x" + k,
              title=dict(text=spec["title"], font=title_font, standoff=spec["standoff"]))
    if "ticktext" in spec:
        ya["ticktext"] = spec["ticktext"]
    layout["yaxis" + k] = ya

fig.update_layout(**layout)
# remove the browser's default 8px page margin so the figure fills the window exactly
fig.write_html("out.html", config={"displayModeBar": False},
               post_script="document.body.style.margin='0px';")
